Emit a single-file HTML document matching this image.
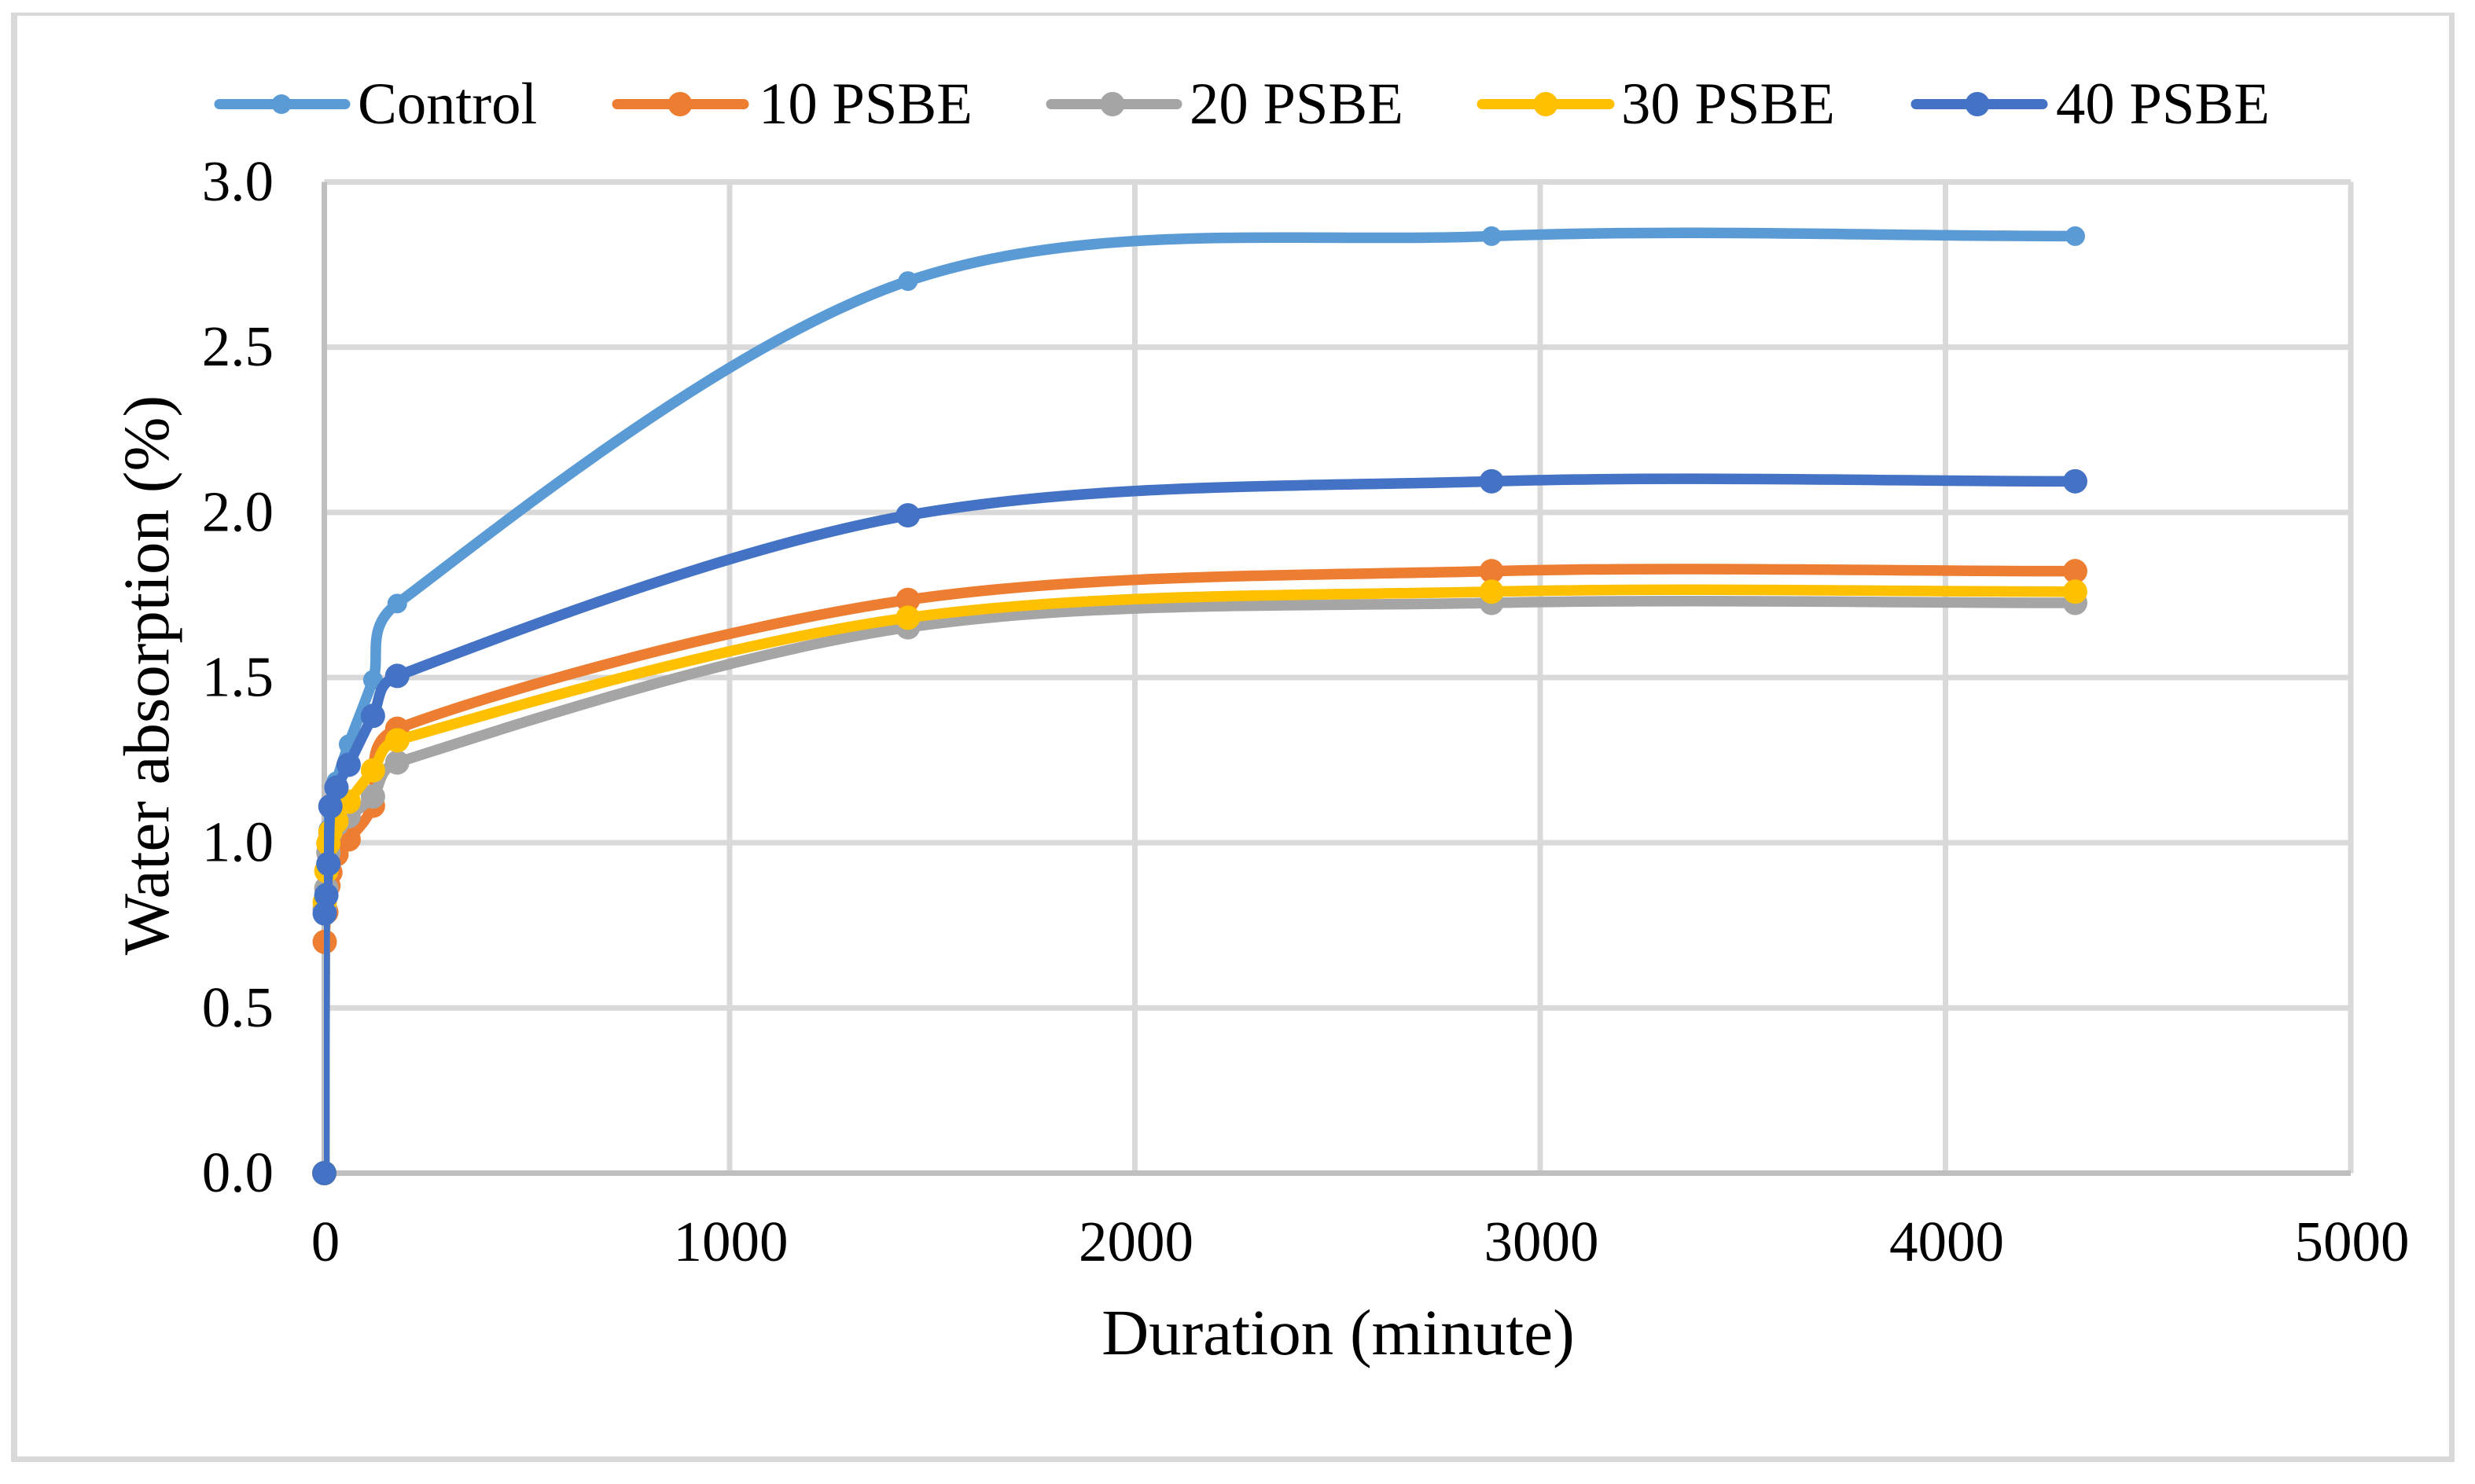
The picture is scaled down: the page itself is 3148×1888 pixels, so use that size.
<!DOCTYPE html>
<html lang="en">
<head>
<meta charset="utf-8">
<title>Water absorption chart</title>
<style>
  html, body { margin: 0; padding: 0; background: #fff; }
  body { width: 3148px; height: 1888px; overflow: hidden; }
  svg { display: block; }
  text { font-family: "Liberation Serif", "Times New Roman", serif; fill: #000; }
  .tick { font-size: 73px; }
  .legend-text { font-size: 74.7px; }
  .title { font-size: 83px; }
</style>
</head>
<body>
<svg id="chart" xmlns="http://www.w3.org/2000/svg" width="3148" height="1888" viewBox="0 0 3148 1888">
  <rect x="0" y="0" width="3148" height="1888" fill="#fff"/>
  <g fill="#D9D9D9">
    <rect x="14" y="16" width="3108" height="4"/>
    <rect x="14" y="16" width="8" height="1844"/>
    <rect x="3115" y="16" width="7" height="1844"/>
    <rect x="14" y="1853" width="3108" height="7"/>
  </g>
  <defs>
    <clipPath id="plot-clip"><rect x="412" y="200" width="2600" height="1296"/></clipPath>
  </defs>
  <g id="grid"></g>
  <g id="axes"></g>
  <g id="ticks"></g>
  <g id="lines"></g>

  <text class="title" x="1702" y="1723" text-anchor="middle">Duration (minute)</text>
  <text class="title" x="214" y="859" text-anchor="middle" transform="rotate(-90 214 859)">Water absorption (%)</text>

  <g>
    <g>
      <line x1="279" y1="132.5" x2="439" y2="132.5" stroke="#5B9BD5" stroke-width="13" stroke-linecap="round"/>
      <circle cx="358" cy="132.5" r="12.5" fill="#5B9BD5"/>
      <text class="legend-text" x="455" y="157">Control</text>
    </g>
    <g>
      <line x1="785" y1="132.5" x2="946" y2="132.5" stroke="#ED7D31" stroke-width="13" stroke-linecap="round"/>
      <circle cx="865" cy="132.5" r="15.5" fill="#ED7D31"/>
      <text class="legend-text" x="965" y="157">10 PSBE</text>
    </g>
    <g>
      <line x1="1337" y1="132.5" x2="1497" y2="132.5" stroke="#A5A5A5" stroke-width="13" stroke-linecap="round"/>
      <circle cx="1415" cy="132.5" r="15.5" fill="#A5A5A5"/>
      <text class="legend-text" x="1513" y="157">20 PSBE</text>
    </g>
    <g>
      <line x1="1885" y1="132.5" x2="2047" y2="132.5" stroke="#FFC000" stroke-width="13" stroke-linecap="round"/>
      <circle cx="1966" cy="132.5" r="15.5" fill="#FFC000"/>
      <text class="legend-text" x="2062" y="157">30 PSBE</text>
    </g>
    <g>
      <line x1="2437" y1="132.5" x2="2598" y2="132.5" stroke="#4472C4" stroke-width="13" stroke-linecap="round"/>
      <circle cx="2515" cy="132.5" r="15.5" fill="#4472C4"/>
      <text class="legend-text" x="2615" y="157">40 PSBE</text>
    </g>
  </g>
</svg>
<script>
// Chart data
const durations = [0, 1, 5, 10, 15, 30, 60, 120, 180, 1440, 2880, 4320];
const control = [0, 0.80, 0.92, 1.04, 1.11, 1.186, 1.298, 1.493, 1.724, 2.70, 2.836, 2.836];
const psbe10 = [0, 0.70, 0.79, 0.87, 0.91, 0.965, 1.01, 1.112, 1.345, 1.735, 1.822, 1.822];
const psbe20 = [0, 0.80, 0.862, 0.97, 1.03, 1.055, 1.08, 1.14, 1.243, 1.652, 1.726, 1.726];
const psbe30 = [0, 0.82, 0.915, 0.998, 1.033, 1.065, 1.124, 1.219, 1.31, 1.681, 1.76, 1.76];
const psbe40 = [0, 0.786, 0.841, 0.936, 1.11, 1.167, 1.236, 1.384, 1.505, 1.991, 2.094, 2.094];
const seriesNames = ['control', '10-psbe', '20-psbe', '30-psbe', '40-psbe'];
const seriesValues = [control, psbe10, psbe20, psbe30, psbe40];
const seriesColors = ['#5B9BD5', '#ED7D31', '#A5A5A5', '#FFC000', '#4472C4'];
const xTicks = [0, 1000, 2000, 3000, 4000, 5000];
const yTicks = [0, 0.5, 1, 1.5, 2, 2.5, 3];

// Axis functions
const plotLeft = 412.5, plotRight = 2990, plotTop = 231.5, plotBottom = 1492.5;
const xMax = 5000, yMax = 3;
function xScale(v) { return plotLeft + (v / xMax) * (plotRight - plotLeft); }
function yScale(v) { return plotBottom - (v / yMax) * (plotBottom - plotTop); }

const NS = 'http://www.w3.org/2000/svg';
function make(tag, parent, attrs) {
  const el = document.createElementNS(NS, tag);
  for (const k in attrs) el.setAttribute(k, attrs[k]);
  parent.appendChild(el);
  return el;
}

const grid = document.getElementById('grid');
const axes = document.getElementById('axes');
const ticks = document.getElementById('ticks');
const linesLayer = document.getElementById('lines');

yTicks.forEach(function (t) {
  if (t === 0) return;
  const el = make('line', grid, { x1: plotLeft, x2: plotRight, y1: yScale(t), y2: yScale(t), stroke: '#D9D9D9', 'stroke-width': 7 });
  
  
});
xTicks.forEach(function (t) {
  if (t === 0) return;
  const el = make('line', grid, { x1: xScale(t), x2: xScale(t), y1: plotTop, y2: plotBottom, stroke: '#D9D9D9', 'stroke-width': 7 });
  
  
});

const yAxisLine = make('line', axes, { x1: plotLeft, x2: plotLeft, y1: plotTop, y2: plotBottom + 3.5, stroke: '#BFBFBF', 'stroke-width': 7 });


const xAxisLine = make('line', axes, { x1: plotLeft - 3.5, x2: plotRight, y1: plotBottom, y2: plotBottom, stroke: '#BFBFBF', 'stroke-width': 7 });



yTicks.forEach(function (t) {
  const el = make('text', ticks, { x: 348, y: yScale(t) + 23.5, 'text-anchor': 'end', class: 'tick' });
  el.textContent = t.toFixed(1);
  
  
});
xTicks.forEach(function (t) {
  const el = make('text', ticks, { x: xScale(t) + 1.5, y: 1604, 'text-anchor': 'middle', class: 'tick' });
  el.textContent = String(t);
  
  
});

// Smoothed line through points: tangent handles are capped at half the segment length
function dist(a, b) { return Math.hypot(b[0] - a[0], b[1] - a[1]); }
function smoothPath(pts) {
  let d = 'M' + pts[0][0] + ' ' + pts[0][1];
  const last = pts.length - 1;
  for (let i = 0; i < last; i++) {
    const p0 = pts[Math.max(i - 1, 0)], p1 = pts[i], p2 = pts[i + 1], p3 = pts[Math.min(i + 2, last)];
    const seg = dist(p1, p2);
    const d02 = dist(p0, p2) || 1, d13 = dist(p1, p3) || 1;
    const f1 = i === 0 ? 1 / 3 : 1 / 6;
    const f2 = i === last - 1 ? 1 / 3 : 1 / 6;
    const k1 = Math.min(f1, (seg / 2) / d02);
    const k2 = Math.min(f2, (seg / 2) / d13);
    const c1x = p1[0] + (p2[0] - p0[0]) * k1, c1y = p1[1] + (p2[1] - p0[1]) * k1;
    const c2x = p2[0] - (p3[0] - p1[0]) * k2, c2y = p2[1] - (p3[1] - p1[1]) * k2;
    d += 'C' + c1x + ' ' + c1y + ' ' + c2x + ' ' + c2y + ' ' + p2[0] + ' ' + p2[1];
  }
  return d;
}

seriesValues.forEach(function (values, s) {
  const group = make('g', linesLayer, {});
  
  
  const pts = values.map(function (v, i) { return [xScale(durations[i]), yScale(v)]; });
  const path = make('path', group, {
    d: smoothPath(pts), fill: 'none', stroke: seriesColors[s], 'stroke-width': 13.5,
    'stroke-linejoin': 'round', 'clip-path': 'url(#plot-clip)'
  });
  
  
  const r = s === 0 ? 12.5 : 15.5;
  pts.forEach(function (p) {
    const c = make('circle', group, { cx: p[0], cy: p[1], r: r, fill: seriesColors[s] });
    
    
  });
});
</script>
</body>
</html>
